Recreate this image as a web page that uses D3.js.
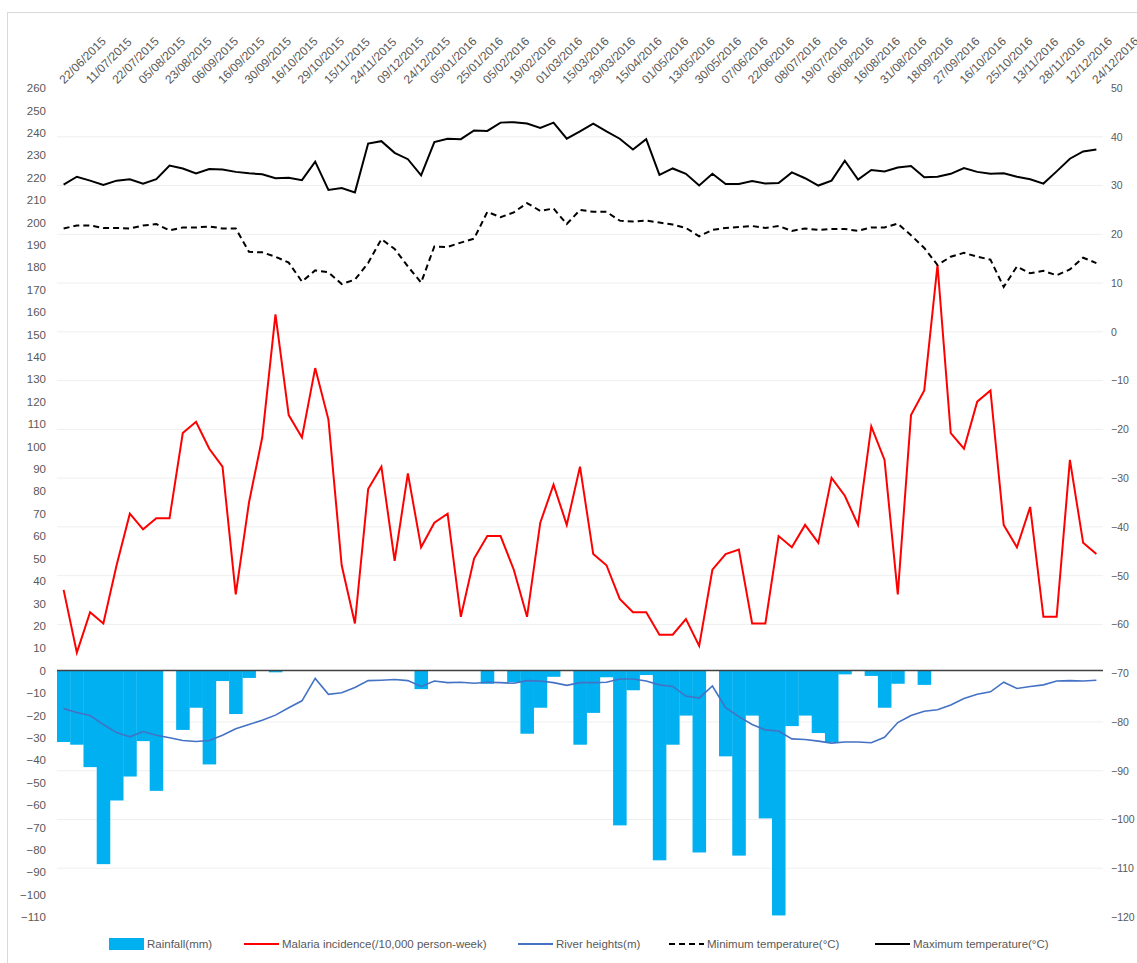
<!DOCTYPE html>
<html lang="en">
	<head>
		<meta charset="utf-8">
		<title>Malaria, rainfall, river and temperature</title>
		<script src="https://d3js.org/d3.v7.min.js"></script>
		<style type="text/css">
			body { margin: 0; background: #fff; }
			text { font-family: "Liberation Sans", Arial, sans-serif; fill: #595959; }
		</style>
	</head>
	<body>
<div id="chart"></div>
		<script type="text/javascript">
// tick labels on the top axis (every second week)
var dateLabels = ["22/06/2015","11/07/2015","22/07/2015","05/08/2015","23/08/2015","06/09/2015","16/09/2015","30/09/2015","16/10/2015","29/10/2015","15/11/2015","24/11/2015","09/12/2015","24/12/2015","05/01/2016","25/01/2016","05/02/2016","19/02/2016","01/03/2016","15/03/2016","29/03/2016","15/04/2016","01/05/2016","13/05/2016","30/05/2016","07/06/2016","22/06/2016","08/07/2016","19/07/2016","06/08/2016","16/08/2016","31/08/2016","18/09/2016","27/09/2016","16/10/2016","25/10/2016","13/11/2016","28/11/2016","12/12/2016","24/12/2016"];

// left axis series
var malaria = [36,8,26,21,47,70,63,68,68,106, 111,99,91,34,75,104,159,114,104,135, 112,47,21,81,91,49,88,55,66,70, 24,50,60,60,45,24,66,83,65,91, 52,47,32,26,26,16,16,23,11,45, 52,54,21,21,60,55,65,57,86,78, 65,109,94,34,114,125,181,106,99,120, 125,65,55,73,24,24,94,57,52];

var rainfall = [-31.9,-33.1,-43.1,-86.4,-58.0,-47.3,-31.5,-53.7,0,-26.5, -16.6,-41.9,-4.7,-19.4,-3.3,0,-0.8,0,0,0, 0,0,0,0,0,0,0,-8.3,0,0, 0,0,-5.9,0,-5.2,-28.2,-16.6,-2.8,0,-33.1, -18.9,-3,-69.1,-8.8,-2,-84.7,-33.1,-20.1,-81.2,0, -38.3,-82.6,-20.1,-66.0,-109.3,-24.8,-20.1,-27.9,-31.9,-1.7, 0,-2.4,-16.6,-5.9,0,-6.4,0,0,0,0, 0,0,0,0,0,0,0,0,0];

var river = [-17.0,-18.7,-20.1,-24.1,-27.7,-29.6,-27.2,-28.9,-30.0,-31.2, -31.7,-31.2,-28.9,-26.0,-24.1,-22.2,-19.9,-16.6,-13.5,-3.5, -10.6,-9.9,-7.6,-4.5,-4.3,-4.0,-4.5,-7.1,-4.7,-5.4, -5.2,-5.7,-5.2,-5.4,-5.7,-4.5,-4.7,-5.4,-6.6,-5.4, -5.4,-5.2,-3.8,-3.8,-4.7,-6.4,-7.1,-11.4,-12.3,-6.9, -16.6,-20.6,-24.1,-26.5,-27.0,-30.5,-30.8,-31.5,-32.4,-31.9, -31.9,-32.2,-29.8,-23.2,-20.1,-18.2,-17.5,-15.4,-12.5,-10.6, -9.5,-5.2,-8.0,-7.1,-6.4,-4.7,-4.5,-4.7,-4.3];

// right axis series
var minTemp = [21.2,21.8,21.8,21.3,21.3,21.2,21.8,22.1,20.8,21.4, 21.4,21.6,21.2,21.2,16.4,16.3,15.4,14.2,10.3,12.6, 12.2,9.8,10.7,14.1,19.0,17.0,13.4,10.1,17.5,17.4, 18.3,19.1,24.6,23.5,24.5,26.4,24.8,25.3,22.1,25.0, 24.6,24.6,22.8,22.6,22.8,22.4,22.0,21.3,19.6,20.9, 21.3,21.5,21.7,21.3,21.7,20.7,21.2,20.9,21.1,21.1, 20.7,21.4,21.4,22.2,19.8,17.2,13.7,15.4,16.2,15.4, 14.8,9.2,13.4,12.0,12.5,11.6,12.8,15.2,14.1];

var maxTemp = [30.2,31.8,31.0,30.1,31.0,31.3,30.4,31.3,34.1,33.5, 32.5,33.4,33.3,32.8,32.5,32.3,31.5,31.6,31.1,34.9, 29.1,29.5,28.6,38.6,39.1,36.7,35.4,32.1,38.9,39.6, 39.5,41.3,41.2,42.9,43.0,42.7,41.8,42.9,39.6,41.1, 42.7,41.1,39.6,37.4,39.5,32.2,33.5,32.4,30.0,32.4, 30.3,30.3,30.9,30.4,30.5,32.7,31.5,30.0,31.0,35.1, 31.2,33.2,32.9,33.7,34.0,31.7,31.8,32.4,33.6,32.8, 32.4,32.5,31.8,31.3,30.4,32.9,35.5,37.0,37.4];

var leftTicks = d3.range(-110, 261, 10);
var rightTicks = d3.range(-120, 51, 10);

//Width and height
var w = 1137;
var h = 963;
var plotL = 57, plotR = 1103, plotT = 88, plotB = 917;

var idx = d3.range(malaria.length);

var xScale = d3.scaleBand()
	.domain(idx)
	.range([plotL, plotR])
	.padding(0);

var yLeft = d3.scaleLinear()
	.domain([-110, 260])
	.range([plotB, plotT]);

var yRight = d3.scaleLinear()
	.domain([-120, 50])
	.range([plotB, plotT]);

var cx = function (i) { return xScale(i) + xScale.bandwidth() / 2; };

var svg = d3.select("#chart")
	.append("svg")
	.attr("width", w)
	.attr("height", h);

// chart border
svg.append("rect")
	.attr("x", 7.5).attr("y", 12.5)
	.attr("width", w).attr("height", h)
	.attr("fill", "none")
	.attr("stroke", "#d9d9d9");

// gridlines from the right axis
svg.append("g")
	.selectAll("line")
	.data(rightTicks.filter(d => d > -120 && d < 50 && d != -70))
	.enter()
	.append("line")
	.attr("x1", plotL).attr("x2", plotR)
	.attr("y1", d => yRight(d)).attr("y2", d => yRight(d))
	.attr("stroke", "#efefef")
	.attr("stroke-width", 1);

// rainfall bars
svg.append("g")
	.selectAll("rect")
	.data(idx)
	.enter()
	.append("rect")
	.attr("x", i => xScale(i))
	.attr("width", xScale.bandwidth() + 0.3)
	.attr("y", i => yLeft(Math.max(0, rainfall[i])))
	.attr("height", i => Math.abs(yLeft(rainfall[i]) - yLeft(0)))
	.attr("fill", "#00b0f0");

// zero line
svg.append("line")
	.attr("x1", plotL).attr("x2", plotR)
	.attr("y1", yLeft(0)).attr("y2", yLeft(0))
	.attr("stroke", "#404040")
	.attr("stroke-width", 1.6);

var lineLeft = function (arr) {
	return d3.line().x(i => cx(i)).y(i => yLeft(arr[i]))(idx);
};
var lineRight = function (arr) {
	return d3.line().x(i => cx(i)).y(i => yRight(arr[i]))(idx);
};

svg.append("path").attr("d", lineLeft(river))
	.attr("fill", "none").attr("stroke", "#4472c4").attr("stroke-width", 1.6);

svg.append("path").attr("d", lineLeft(malaria))
	.attr("fill", "none").attr("stroke", "#ff0000").attr("stroke-width", 2);

svg.append("path").attr("d", lineRight(minTemp))
	.attr("fill", "none").attr("stroke", "#000").attr("stroke-width", 2)
	.attr("stroke-dasharray", "6,4");

svg.append("path").attr("d", lineRight(maxTemp))
	.attr("fill", "none").attr("stroke", "#000").attr("stroke-width", 2);

//Left axis
var yAxisL = d3.axisLeft(yLeft).tickValues(leftTicks).tickSize(0).tickPadding(3);
svg.append("g")
	.attr("transform", "translate(49,0)")
	.call(yAxisL)
	.call(g => g.select(".domain").remove())
	.selectAll("text")
	.style("font-size", "11.5px")
	.attr("fill", "#595959");

//Right axis
var yAxisR = d3.axisRight(yRight).tickValues(rightTicks).tickSize(0).tickPadding(2);
svg.append("g")
	.attr("transform", "translate(1109,0)")
	.call(yAxisR)
	.call(g => g.select(".domain").remove())
	.selectAll("text")
	.style("font-size", "10.5px")
	.attr("fill", "#595959");

//Top axis with rotated dates
var xAxis = d3.axisTop(xScale)
	.tickValues(idx.filter(i => i % 2 == 0))
	.tickFormat(i => dateLabels[i / 2])
	.tickSize(0);
svg.append("g")
	.attr("transform", "translate(0,80)")
	.call(xAxis)
	.call(g => g.select(".domain").remove())
	.selectAll("text")
	.style("font-size", "12px")
	.attr("fill", "#595959")
	.attr("text-anchor", "start")
	.attr("x", 0).attr("y", 0)
	.attr("dy", "0.3em")
	.attr("transform", "translate(-2,2) rotate(-45)");

// legend
var legendNames = ["Rainfall(mm)", "Malaria incidence(/10,000 person-week)", "River heights(m)", "Minimum temperature(\u00B0C)", "Maximum temperature(\u00B0C)"];
var legendColors = ["#00b0f0", "#ff0000", "#4472c4", "#000", "#000"];
var legendX = [109, 244, 518, 669, 875];
var ly = 944;
var lg = svg.append("g");
legendNames.forEach(function (name, k) {
	var x0 = legendX[k];
	if (k == 0) {
		lg.append("rect").attr("x", x0).attr("y", ly - 6).attr("width", 35).attr("height", 12).attr("fill", legendColors[k]);
	} else {
		lg.append("line").attr("x1", x0).attr("x2", x0 + 35).attr("y1", ly).attr("y2", ly)
			.attr("stroke", legendColors[k]).attr("stroke-width", 2)
			.attr("stroke-dasharray", k == 3 ? "6,4" : null);
	}
	lg.append("text").attr("x", x0 + 38).attr("y", ly).attr("dy", "0.35em")
		.style("font-size", "11.5px").text(name);
});
		</script>
	</body>
</html>
